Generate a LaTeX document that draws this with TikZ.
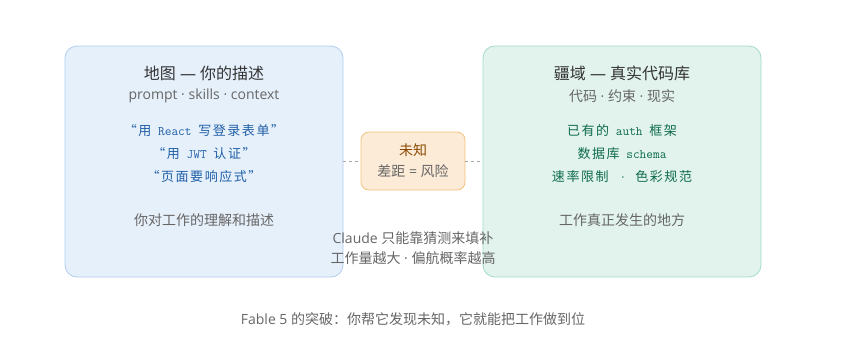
\documentclass[tikz,border=0pt]{standalone}
\usepackage{fontspec}
\setmainfont{Noto Sans CJK SC}
\newfontfamily\latin{Open Sans}
\newfontfamily\cjkmono[LetterSpace=12]{Noto Sans CJK SC}
\usepackage{tikz}
\usetikzlibrary{positioning}
\usepackage{xcolor}
\definecolor{mapfill}{HTML}{E6F0FB}
\definecolor{mapline}{HTML}{AFCDEE}
\definecolor{terrfill}{HTML}{E1F3EC}
\definecolor{terrline}{HTML}{A3DCC6}
\definecolor{gapfill}{HTML}{FCEBD7}
\definecolor{gapline}{HTML}{F3C27D}
\definecolor{maptext}{HTML}{1F5FA6}
\definecolor{terrtext}{HTML}{0E6B4C}
\definecolor{gaptext}{HTML}{8B4A00}
\newcommand{\mt}[1]{{\ttfamily #1}}
\newcommand{\lt}[1]{{\latin #1}}

\begin{document}
\begin{tikzpicture}[x=1pt,y=-1pt,
  panel/.style={draw,rounded corners=12pt,line width=0.8pt,minimum width=278pt,minimum height=231pt},
  title/.style={text=black!80,font=\fontsize{16}{19}\selectfont},
  sub/.style={text=black!60,font=\fontsize{14}{17}\selectfont},
  code/.style={font=\fontsize{13}{15}\selectfont},
  note/.style={text=black!60,font=\fontsize{14}{17}\selectfont}]
\useasboundingbox (0,0) rectangle (854,357);
% the two panels
\node[panel,fill=mapfill,draw=mapline] (map) at (204,161.5) {};
\node[panel,fill=terrfill,draw=terrline] (terr) at (622,161.5) {};
% the gap in between
\node[draw=gapline,fill=gapfill,rounded corners=8pt,line width=0.8pt,minimum width=104pt,minimum height=58pt] (gap) at (413,161) {};
\draw[black!35,dashed,line width=0.8pt] (map.east |- gap.west) -- (gap.west);
\draw[black!35,dashed,line width=0.8pt] (gap.east) -- (terr.west |- gap.east);
\node[text=gaptext,font=\fontsize{14}{17}\selectfont] (gapa) at (413,150) {未知};
\node[note] (gapb) at (413,171) {差距\lt{ = }风险};
% map side
\node[title] (mapt) at (204,73) {地图\lt{ — }你的描述};
\node[sub,font=\latin\fontsize{14}{17}\selectfont] (maps) at (204,96) {prompt · skills · context};
\node[code,text=maptext] (mapa) at (204,131) {{\cjkmono “用}\mt{ React }{\cjkmono 写登录表单”}};
\node[code,text=maptext] (mapb) at (204,154) {{\cjkmono “用}\mt{ JWT }{\cjkmono 认证”}};
\node[code,text=maptext] (mapc) at (204,177) {{\cjkmono “页面要响应式”}};
\node[sub] (mapd) at (204,220) {你对工作的理解和描述};
% territory side
\node[title] (terrt) at (622,73) {疆域\lt{ — }真实代码库};
\node[sub] (terrs) at (622,96) {代码\lt{ · }约束\lt{ · }现实};
\node[code,text=terrtext] (terra) at (622,131) {{\cjkmono 已有的}\mt{ auth }{\cjkmono 框架}};
\node[code,text=terrtext] (terrb) at (622,154) {{\cjkmono 数据库}\mt{ schema}};
\node[code,text=terrtext] (terrc) at (622,177) {{\cjkmono 速率限制}\hspace{11pt}\mt{·}\hspace{9pt}{\cjkmono 色彩规范}};
\node[sub] (terrd) at (622,220) {工作真正发生的地方};
% below the gap
\node[note] (clda) at (413,238) {\lt{Claude }只能靠猜测来填补};
\node[note] (cldb) at (413,258) {工作量越大\lt{ · }偏航概率越高};
\node[note] (foot) at (413,319) {\lt{Fable 5 }的突破：你帮它发现未知，它就能把工作做到位};
\end{tikzpicture}
\end{document}
